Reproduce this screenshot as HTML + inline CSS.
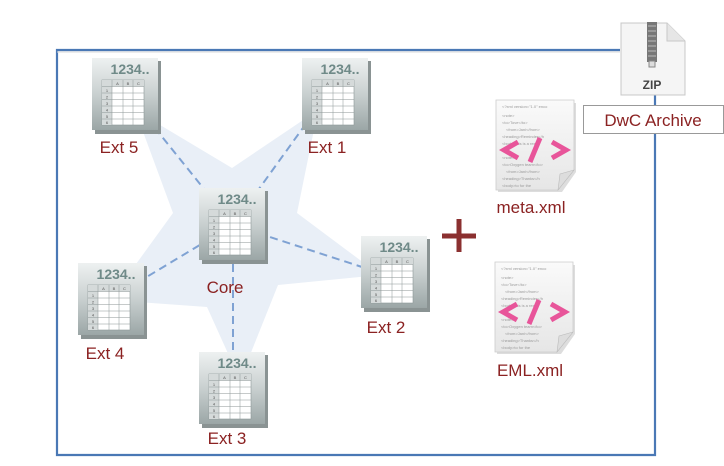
<!DOCTYPE html>
<html><head><meta charset="utf-8"><style>
html,body{margin:0;padding:0;background:#fff;width:724px;height:466px;overflow:hidden}
svg{display:block}
text{font-family:"Liberation Sans",sans-serif}
</style></head><body>
<svg width="724" height="466" viewBox="0 0 724 466" xmlns="http://www.w3.org/2000/svg">
<defs>
<linearGradient id="tg" x1="0" y1="0" x2="0" y2="1">
<stop offset="0" stop-color="#eef1f1"/><stop offset="0.5" stop-color="#c9d0d0"/><stop offset="1" stop-color="#9ba6a6"/>
</linearGradient>
<linearGradient id="pg" x1="0" y1="0" x2="0" y2="1">
<stop offset="0" stop-color="#fafafa"/><stop offset="1" stop-color="#e6e6e6"/>
</linearGradient>
<g id="tbl">
<rect x="3" y="3" width="66" height="73" fill="#8a9393"/>
<rect x="0" y="0" width="66" height="72" fill="url(#tg)"/>
<text x="38" y="16" text-anchor="middle" font-size="14" font-weight="bold" fill="#6f8a88">1234..</text>
<rect x="10" y="22" width="42" height="45" fill="#fff" stroke="#8c9696" stroke-width="0.6"/>
<rect x="10" y="22" width="42" height="6.5" fill="#d5dada"/>
<rect x="10" y="22" width="10" height="45" fill="#d5dada"/>
<g stroke="#8c9696" stroke-width="0.5">
<line x1="20" y1="22" x2="20" y2="67"/><line x1="31" y1="22" x2="31" y2="67"/><line x1="41" y1="22" x2="41" y2="67"/>
<line x1="10" y1="28.5" x2="52" y2="28.5"/><line x1="10" y1="35" x2="52" y2="35"/><line x1="10" y1="41.5" x2="52" y2="41.5"/>
<line x1="10" y1="48" x2="52" y2="48"/><line x1="10" y1="54.5" x2="52" y2="54.5"/><line x1="10" y1="61" x2="52" y2="61"/>
</g>
<g font-size="4" fill="#555" text-anchor="middle">
<text x="25.5" y="27">A</text><text x="36" y="27">B</text><text x="46.5" y="27">C</text>
<text x="15" y="34">1</text><text x="15" y="40.5">2</text><text x="15" y="47">3</text><text x="15" y="53.5">4</text><text x="15" y="60">5</text><text x="15" y="66">6</text>
</g>
</g>
<g id="doc">
<path d="M2,3 H80 V72 L66,92 H2 Z" fill="#bbb" opacity="0.5"/>
<path d="M0,0 H78 V70 L62,90 H0 Z" fill="url(#pg)" stroke="#ccc" stroke-width="0.8"/>
<g fill="#999" font-size="4" font-family="Liberation Mono,monospace">
<text x="6" y="8">&lt;?xml version="1.0" enco</text>
<text x="6" y="17">&lt;note&gt;</text><text x="6" y="24">&lt;to&gt;Tove&lt;/to&gt;</text>
<text x="10" y="31">&lt;from&gt;Jani&lt;/from&gt;</text><text x="6" y="38">&lt;heading&gt;Reminder&lt;/h</text>
<text x="6" y="45">&lt;body&gt;this is a rem</text><text x="6" y="59">&lt;note&gt;</text>
<text x="6" y="66">&lt;to&gt;Oxygen team&lt;/to&gt;</text><text x="10" y="73">&lt;from&gt;Jani&lt;/from&gt;</text>
<text x="6" y="80">&lt;heading&gt;Thanks&lt;/h</text><text x="6" y="87">&lt;body&gt;to for the</text>
</g>
<g stroke="#e8559a" stroke-width="5" fill="none" stroke-linecap="butt">
<polyline points="22,42 8,50 22,58"/><polyline points="56,42 70,50 56,58"/><line x1="44" y1="38" x2="34" y2="62"/>
</g>
<path d="M78,70 L62,90 L64,74 Z" fill="#ddd" stroke="#bbb" stroke-width="0.6"/>
</g>
</defs>
<path d="M620,50 H57 V455 H655 V133 M655,105 V95" fill="none" stroke="#4a78b5" stroke-width="2.2"/>
<line x1="57" y1="52" x2="620" y2="52" stroke="#d8d8d8" stroke-width="1"/>
<polygon points="135,110 232,168 318,110 297,213 380,275 278,285 240,380 207,307 110,300 173,213" fill="#e9eff7"/>
<g stroke="#7fa2d3" stroke-width="2" stroke-dasharray="8,5" fill="none">
<line x1="233" y1="225" x2="155" y2="128"/>
<line x1="233" y1="225" x2="305" y2="125"/>
<line x1="233" y1="225" x2="362" y2="267"/>
<line x1="233" y1="225" x2="145" y2="278"/>
<line x1="233" y1="225" x2="233" y2="355"/>
</g>
<use href="#tbl" x="92" y="58"/>
<use href="#tbl" x="302" y="58"/>
<use href="#tbl" x="199" y="188"/>
<use href="#tbl" x="361" y="236"/>
<use href="#tbl" x="78" y="263"/>
<use href="#tbl" x="199" y="352"/>
<g fill="#8b2222" font-size="17">
<text x="119" y="153" text-anchor="middle">Ext 5</text>
<text x="327" y="153" text-anchor="middle">Ext 1</text>
<text x="225" y="293" text-anchor="middle">Core</text>
<text x="386" y="333" text-anchor="middle">Ext 2</text>
<text x="105" y="359" text-anchor="middle">Ext 4</text>
<text x="227" y="444" text-anchor="middle">Ext 3</text>
<text x="531" y="213" text-anchor="middle">meta.xml</text>
<text x="530" y="376" text-anchor="middle">EML.xml</text>
</g>
<g stroke="#8b3030" stroke-width="5"><line x1="442" y1="236" x2="476" y2="236"/><line x1="459" y1="219" x2="459" y2="252"/></g>
<use href="#doc" x="496" y="100"/>
<use href="#doc" x="495" y="262"/>
<path d="M621,23 H667 L685,41 V95 H621 Z" fill="#f5f5f5" stroke="#c8c8c8"/>
<path d="M667,23 V41 H685" fill="#e6e6e6" stroke="#c8c8c8"/>
<rect x="647" y="22" width="10" height="40" fill="#777"/>
<g stroke="#bbb" stroke-width="1"><line x1="648" y1="26" x2="656" y2="26"/><line x1="648" y1="31" x2="656" y2="31"/><line x1="648" y1="36" x2="656" y2="36"/><line x1="648" y1="41" x2="656" y2="41"/><line x1="648" y1="46" x2="656" y2="46"/><line x1="648" y1="51" x2="656" y2="51"/><line x1="648" y1="56" x2="656" y2="56"/></g>
<rect x="649" y="61" width="6" height="6" fill="#ddd" stroke="#888"/>
<text x="652" y="89" text-anchor="middle" font-size="12" font-weight="bold" fill="#444">ZIP</text>
<rect x="583.5" y="105.5" width="140" height="28" fill="#fff" stroke="#999"/>
<text x="653" y="126" text-anchor="middle" font-size="17" fill="#8b2222">DwC Archive</text>
</svg>
</body></html>
